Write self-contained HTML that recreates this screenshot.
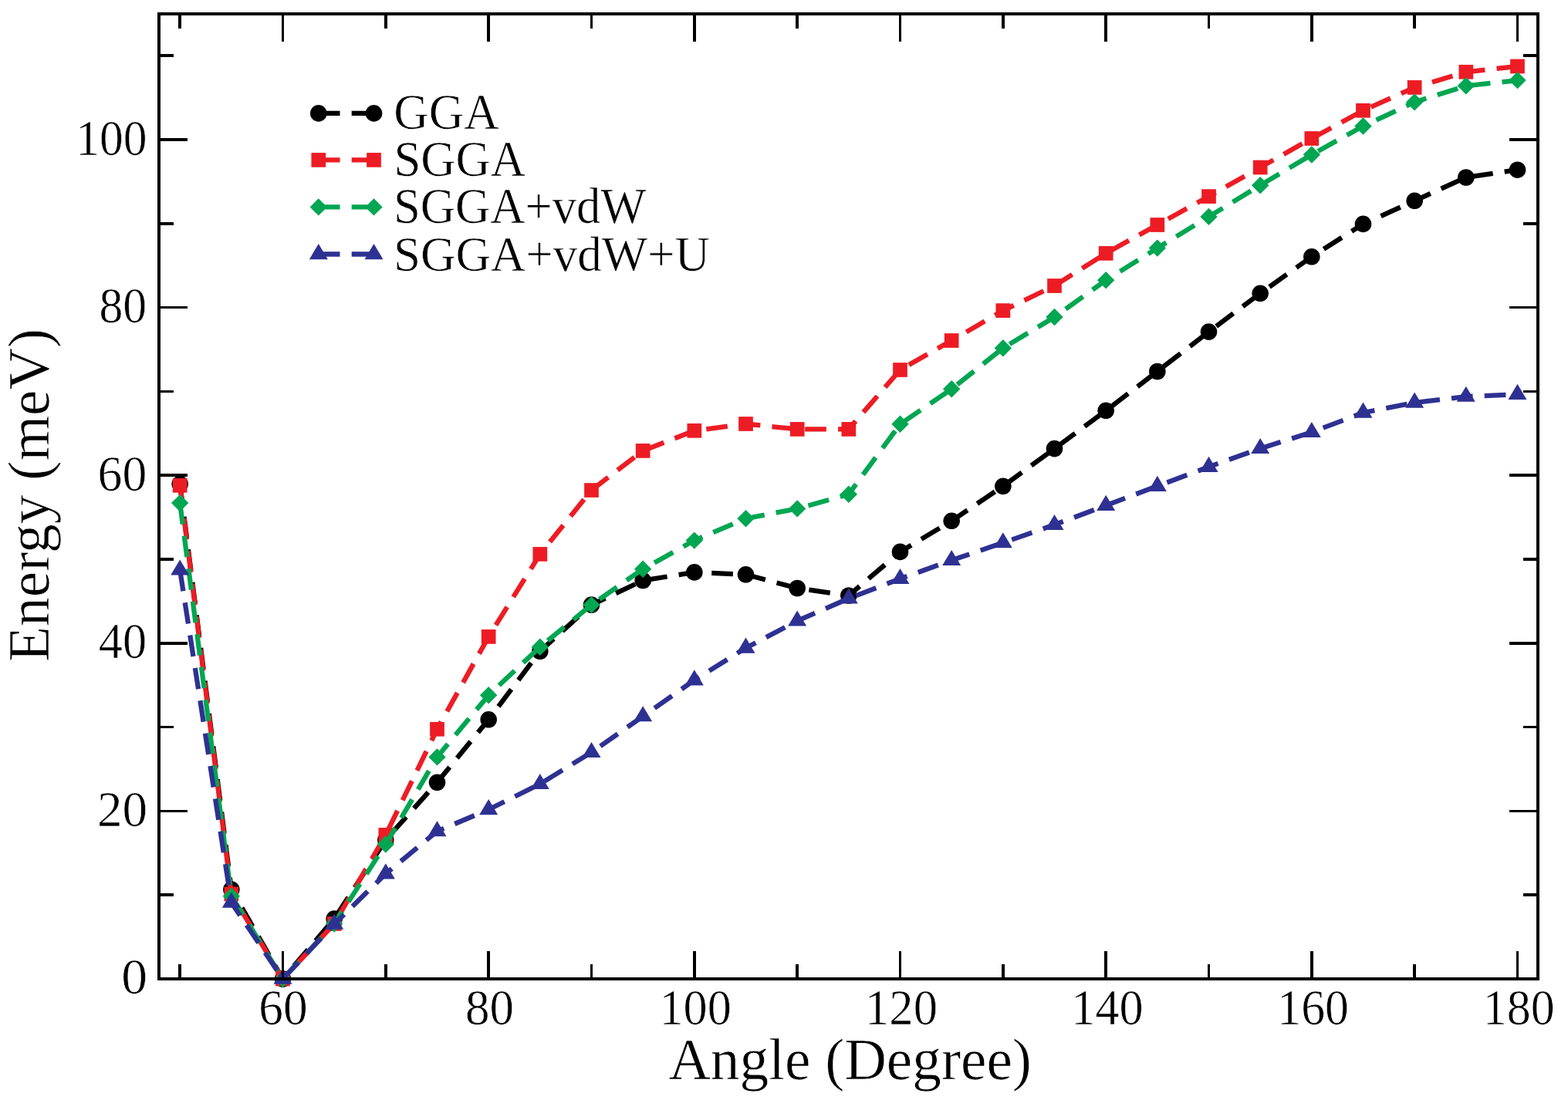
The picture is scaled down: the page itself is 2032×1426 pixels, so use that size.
<!DOCTYPE html>
<html><head><meta charset="utf-8"><title>Energy vs Angle</title>
<style>html,body{margin:0;padding:0;background:#fff;overflow:hidden;}svg{display:block;}</style>
</head><body>
<svg width="2032" height="1426" viewBox="0 0 2032 1426">
<rect width="2032" height="1426" fill="#fff"/>
<polyline points="233.17,627.30 299.83,1153.10 366.50,1269.00 433.17,1191.10 499.83,1088.80 566.50,1014.30 633.17,932.80 699.83,844.30 766.50,784.10 833.17,752.50 899.83,741.90 966.50,744.80 1033.17,762.50 1099.83,772.00 1166.50,715.40 1233.17,675.30 1299.83,630.30 1366.50,581.60 1433.17,532.30 1499.83,481.50 1566.50,430.10 1633.17,380.30 1699.83,332.80 1766.50,290.40 1833.17,260.30 1899.83,230.00 1966.50,220.20" fill="none" stroke="#000000" stroke-width="6.3" stroke-dasharray="27.7 15.18" stroke-linejoin="miter"/>
<g><circle cx="233.17" cy="627.30" r="10.8" fill="#000000"/><circle cx="299.83" cy="1153.10" r="10.8" fill="#000000"/><circle cx="366.50" cy="1269.00" r="10.8" fill="#000000"/><circle cx="433.17" cy="1191.10" r="10.8" fill="#000000"/><circle cx="499.83" cy="1088.80" r="10.8" fill="#000000"/><circle cx="566.50" cy="1014.30" r="10.8" fill="#000000"/><circle cx="633.17" cy="932.80" r="10.8" fill="#000000"/><circle cx="699.83" cy="844.30" r="10.8" fill="#000000"/><circle cx="766.50" cy="784.10" r="10.8" fill="#000000"/><circle cx="833.17" cy="752.50" r="10.8" fill="#000000"/><circle cx="899.83" cy="741.90" r="10.8" fill="#000000"/><circle cx="966.50" cy="744.80" r="10.8" fill="#000000"/><circle cx="1033.17" cy="762.50" r="10.8" fill="#000000"/><circle cx="1099.83" cy="772.00" r="10.8" fill="#000000"/><circle cx="1166.50" cy="715.40" r="10.8" fill="#000000"/><circle cx="1233.17" cy="675.30" r="10.8" fill="#000000"/><circle cx="1299.83" cy="630.30" r="10.8" fill="#000000"/><circle cx="1366.50" cy="581.60" r="10.8" fill="#000000"/><circle cx="1433.17" cy="532.30" r="10.8" fill="#000000"/><circle cx="1499.83" cy="481.50" r="10.8" fill="#000000"/><circle cx="1566.50" cy="430.10" r="10.8" fill="#000000"/><circle cx="1633.17" cy="380.30" r="10.8" fill="#000000"/><circle cx="1699.83" cy="332.80" r="10.8" fill="#000000"/><circle cx="1766.50" cy="290.40" r="10.8" fill="#000000"/><circle cx="1833.17" cy="260.30" r="10.8" fill="#000000"/><circle cx="1899.83" cy="230.00" r="10.8" fill="#000000"/><circle cx="1966.50" cy="220.20" r="10.8" fill="#000000"/></g>
<polyline points="233.17,629.30 299.83,1158.90 366.50,1269.00 433.17,1197.50 499.83,1082.40 566.50,945.30 633.17,825.40 699.83,718.40 766.50,635.50 833.17,584.40 899.83,558.30 966.50,549.50 1033.17,556.40 1099.83,556.40 1166.50,479.50 1233.17,441.50 1299.83,402.60 1366.50,370.50 1433.17,328.40 1499.83,291.50 1566.50,254.60 1633.17,217.00 1699.83,179.50 1766.50,143.30 1833.17,113.40 1899.83,93.30 1966.50,86.00" fill="none" stroke="#ED1C24" stroke-width="6.3" stroke-dasharray="27.7 15.18" stroke-linejoin="miter"/>
<g><rect x="223.82" y="619.95" width="18.70" height="18.70" fill="#ED1C24"/><rect x="290.48" y="1149.55" width="18.70" height="18.70" fill="#ED1C24"/><rect x="357.15" y="1259.65" width="18.70" height="18.70" fill="#ED1C24"/><rect x="423.82" y="1188.15" width="18.70" height="18.70" fill="#ED1C24"/><rect x="490.48" y="1073.05" width="18.70" height="18.70" fill="#ED1C24"/><rect x="557.15" y="935.95" width="18.70" height="18.70" fill="#ED1C24"/><rect x="623.82" y="816.05" width="18.70" height="18.70" fill="#ED1C24"/><rect x="690.48" y="709.05" width="18.70" height="18.70" fill="#ED1C24"/><rect x="757.15" y="626.15" width="18.70" height="18.70" fill="#ED1C24"/><rect x="823.82" y="575.05" width="18.70" height="18.70" fill="#ED1C24"/><rect x="890.48" y="548.95" width="18.70" height="18.70" fill="#ED1C24"/><rect x="957.15" y="540.15" width="18.70" height="18.70" fill="#ED1C24"/><rect x="1023.82" y="547.05" width="18.70" height="18.70" fill="#ED1C24"/><rect x="1090.48" y="547.05" width="18.70" height="18.70" fill="#ED1C24"/><rect x="1157.15" y="470.15" width="18.70" height="18.70" fill="#ED1C24"/><rect x="1223.82" y="432.15" width="18.70" height="18.70" fill="#ED1C24"/><rect x="1290.48" y="393.25" width="18.70" height="18.70" fill="#ED1C24"/><rect x="1357.15" y="361.15" width="18.70" height="18.70" fill="#ED1C24"/><rect x="1423.82" y="319.05" width="18.70" height="18.70" fill="#ED1C24"/><rect x="1490.48" y="282.15" width="18.70" height="18.70" fill="#ED1C24"/><rect x="1557.15" y="245.25" width="18.70" height="18.70" fill="#ED1C24"/><rect x="1623.82" y="207.65" width="18.70" height="18.70" fill="#ED1C24"/><rect x="1690.48" y="170.15" width="18.70" height="18.70" fill="#ED1C24"/><rect x="1757.15" y="133.95" width="18.70" height="18.70" fill="#ED1C24"/><rect x="1823.82" y="104.05" width="18.70" height="18.70" fill="#ED1C24"/><rect x="1890.48" y="83.95" width="18.70" height="18.70" fill="#ED1C24"/><rect x="1957.15" y="76.65" width="18.70" height="18.70" fill="#ED1C24"/></g>
<polyline points="233.17,652.10 299.83,1161.70 366.50,1269.00 433.17,1197.50 499.83,1094.50 566.50,981.40 633.17,901.20 699.83,838.70 766.50,784.10 833.17,737.70 899.83,700.60 966.50,672.20 1033.17,659.40 1099.83,640.80 1166.50,549.80 1233.17,504.30 1299.83,451.30 1366.50,411.00 1433.17,363.30 1499.83,321.60 1566.50,280.90 1633.17,240.20 1699.83,200.50 1766.50,163.50 1833.17,132.40 1899.83,111.30 1966.50,104.10" fill="none" stroke="#00A651" stroke-width="6.3" stroke-dasharray="27.7 15.18" stroke-linejoin="miter"/>
<g><polygon points="233.17,640.90 244.37,652.10 233.17,663.30 221.97,652.10" fill="#00A651"/><polygon points="299.83,1150.50 311.03,1161.70 299.83,1172.90 288.63,1161.70" fill="#00A651"/><polygon points="366.50,1257.80 377.70,1269.00 366.50,1280.20 355.30,1269.00" fill="#00A651"/><polygon points="433.17,1186.30 444.37,1197.50 433.17,1208.70 421.97,1197.50" fill="#00A651"/><polygon points="499.83,1083.30 511.03,1094.50 499.83,1105.70 488.63,1094.50" fill="#00A651"/><polygon points="566.50,970.20 577.70,981.40 566.50,992.60 555.30,981.40" fill="#00A651"/><polygon points="633.17,890.00 644.37,901.20 633.17,912.40 621.97,901.20" fill="#00A651"/><polygon points="699.83,827.50 711.03,838.70 699.83,849.90 688.63,838.70" fill="#00A651"/><polygon points="766.50,772.90 777.70,784.10 766.50,795.30 755.30,784.10" fill="#00A651"/><polygon points="833.17,726.50 844.37,737.70 833.17,748.90 821.97,737.70" fill="#00A651"/><polygon points="899.83,689.40 911.03,700.60 899.83,711.80 888.63,700.60" fill="#00A651"/><polygon points="966.50,661.00 977.70,672.20 966.50,683.40 955.30,672.20" fill="#00A651"/><polygon points="1033.17,648.20 1044.37,659.40 1033.17,670.60 1021.97,659.40" fill="#00A651"/><polygon points="1099.83,629.60 1111.03,640.80 1099.83,652.00 1088.63,640.80" fill="#00A651"/><polygon points="1166.50,538.60 1177.70,549.80 1166.50,561.00 1155.30,549.80" fill="#00A651"/><polygon points="1233.17,493.10 1244.37,504.30 1233.17,515.50 1221.97,504.30" fill="#00A651"/><polygon points="1299.83,440.10 1311.03,451.30 1299.83,462.50 1288.63,451.30" fill="#00A651"/><polygon points="1366.50,399.80 1377.70,411.00 1366.50,422.20 1355.30,411.00" fill="#00A651"/><polygon points="1433.17,352.10 1444.37,363.30 1433.17,374.50 1421.97,363.30" fill="#00A651"/><polygon points="1499.83,310.40 1511.03,321.60 1499.83,332.80 1488.63,321.60" fill="#00A651"/><polygon points="1566.50,269.70 1577.70,280.90 1566.50,292.10 1555.30,280.90" fill="#00A651"/><polygon points="1633.17,229.00 1644.37,240.20 1633.17,251.40 1621.97,240.20" fill="#00A651"/><polygon points="1699.83,189.30 1711.03,200.50 1699.83,211.70 1688.63,200.50" fill="#00A651"/><polygon points="1766.50,152.30 1777.70,163.50 1766.50,174.70 1755.30,163.50" fill="#00A651"/><polygon points="1833.17,121.20 1844.37,132.40 1833.17,143.60 1821.97,132.40" fill="#00A651"/><polygon points="1899.83,100.10 1911.03,111.30 1899.83,122.50 1888.63,111.30" fill="#00A651"/><polygon points="1966.50,92.90 1977.70,104.10 1966.50,115.30 1955.30,104.10" fill="#00A651"/></g>
<polyline points="233.17,738.80 299.83,1170.00 366.50,1269.00 433.17,1198.00 499.83,1132.70 566.50,1077.60 633.17,1049.50 699.83,1016.30 766.50,975.30 833.17,928.60 899.83,881.70 966.50,840.00 1033.17,804.90 1099.83,775.80 1166.50,750.30 1233.17,726.30 1299.83,703.60 1366.50,680.30 1433.17,655.20 1499.83,630.20 1566.50,605.20 1633.17,581.40 1699.83,560.30 1766.50,535.00 1833.17,522.00 1899.83,514.10 1966.50,511.20" fill="none" stroke="#2E3192" stroke-width="6.3" stroke-dasharray="27.7 15.18" stroke-linejoin="miter"/>
<g><polygon points="233.17,725.40 245.17,745.50 221.17,745.50" fill="#2E3192"/><polygon points="299.83,1156.60 311.83,1176.70 287.83,1176.70" fill="#2E3192"/><polygon points="366.50,1255.60 378.50,1275.70 354.50,1275.70" fill="#2E3192"/><polygon points="433.17,1184.60 445.17,1204.70 421.17,1204.70" fill="#2E3192"/><polygon points="499.83,1119.30 511.83,1139.40 487.83,1139.40" fill="#2E3192"/><polygon points="566.50,1064.20 578.50,1084.30 554.50,1084.30" fill="#2E3192"/><polygon points="633.17,1036.10 645.17,1056.20 621.17,1056.20" fill="#2E3192"/><polygon points="699.83,1002.90 711.83,1023.00 687.83,1023.00" fill="#2E3192"/><polygon points="766.50,961.90 778.50,982.00 754.50,982.00" fill="#2E3192"/><polygon points="833.17,915.20 845.17,935.30 821.17,935.30" fill="#2E3192"/><polygon points="899.83,868.30 911.83,888.40 887.83,888.40" fill="#2E3192"/><polygon points="966.50,826.60 978.50,846.70 954.50,846.70" fill="#2E3192"/><polygon points="1033.17,791.50 1045.17,811.60 1021.17,811.60" fill="#2E3192"/><polygon points="1099.83,762.40 1111.83,782.50 1087.83,782.50" fill="#2E3192"/><polygon points="1166.50,736.90 1178.50,757.00 1154.50,757.00" fill="#2E3192"/><polygon points="1233.17,712.90 1245.17,733.00 1221.17,733.00" fill="#2E3192"/><polygon points="1299.83,690.20 1311.83,710.30 1287.83,710.30" fill="#2E3192"/><polygon points="1366.50,666.90 1378.50,687.00 1354.50,687.00" fill="#2E3192"/><polygon points="1433.17,641.80 1445.17,661.90 1421.17,661.90" fill="#2E3192"/><polygon points="1499.83,616.80 1511.83,636.90 1487.83,636.90" fill="#2E3192"/><polygon points="1566.50,591.80 1578.50,611.90 1554.50,611.90" fill="#2E3192"/><polygon points="1633.17,568.00 1645.17,588.10 1621.17,588.10" fill="#2E3192"/><polygon points="1699.83,546.90 1711.83,567.00 1687.83,567.00" fill="#2E3192"/><polygon points="1766.50,521.60 1778.50,541.70 1754.50,541.70" fill="#2E3192"/><polygon points="1833.17,508.60 1845.17,528.70 1821.17,528.70" fill="#2E3192"/><polygon points="1899.83,500.70 1911.83,520.80 1887.83,520.80" fill="#2E3192"/><polygon points="1966.50,497.80 1978.50,517.90 1954.50,517.90" fill="#2E3192"/></g>
<rect x="206" y="18" width="1787" height="1251" fill="none" stroke="#000" stroke-width="4" shape-rendering="crispEdges"/>
<path d="M233.17 1269V1250M233.17 18V37M366.50 1269V1233M366.50 18V54M499.83 1269V1250M499.83 18V37M633.17 1269V1233M633.17 18V54M766.50 1269V1250M766.50 18V37M899.83 1269V1233M899.83 18V54M1033.17 1269V1250M1033.17 18V37M1166.50 1269V1233M1166.50 18V54M1299.83 1269V1250M1299.83 18V37M1433.17 1269V1233M1433.17 18V54M1566.50 1269V1250M1566.50 18V37M1699.83 1269V1233M1699.83 18V54M1833.17 1269V1250M1833.17 18V37M1966.50 1269V1233M1966.50 18V54M206 1160.20H225M1993 1160.20H1974M206 1051.40H243M1993 1051.40H1956M206 942.60H225M1993 942.60H1974M206 833.80H243M1993 833.80H1956M206 725.00H225M1993 725.00H1974M206 616.20H243M1993 616.20H1956M206 507.40H225M1993 507.40H1974M206 398.60H243M1993 398.60H1956M206 289.80H225M1993 289.80H1974M206 181.00H243M1993 181.00H1956M206 72.20H225M1993 72.20H1974" stroke="#000" stroke-width="3.5" fill="none" shape-rendering="crispEdges"/>
<text transform="matrix(0.63370 0 0 0.64500 335.37 1327.77)" font-family="Liberation Serif, Times New Roman, serif" font-size="100" fill="#000" stroke="#fff" stroke-width="0.938">60</text>
<text transform="matrix(0.63043 0 0 0.64500 602.98 1327.82)" font-family="Liberation Serif, Times New Roman, serif" font-size="100" fill="#000" stroke="#fff" stroke-width="0.941">80</text>
<text transform="matrix(0.62336 0 0 0.64500 854.39 1328.14)" font-family="Liberation Serif, Times New Roman, serif" font-size="100" fill="#000" stroke="#fff" stroke-width="0.946">100</text>
<text transform="matrix(0.62628 0 0 0.64500 1121.06 1328.14)" font-family="Liberation Serif, Times New Roman, serif" font-size="100" fill="#000" stroke="#fff" stroke-width="0.944">120</text>
<text transform="matrix(0.62263 0 0 0.64500 1388.30 1328.14)" font-family="Liberation Serif, Times New Roman, serif" font-size="100" fill="#000" stroke="#fff" stroke-width="0.947">140</text>
<text transform="matrix(0.61825 0 0 0.64500 1655.24 1328.14)" font-family="Liberation Serif, Times New Roman, serif" font-size="100" fill="#000" stroke="#fff" stroke-width="0.950">160</text>
<text transform="matrix(0.61971 0 0 0.64500 1921.82 1328.14)" font-family="Liberation Serif, Times New Roman, serif" font-size="100" fill="#000" stroke="#fff" stroke-width="0.949">180</text>
<text transform="matrix(0.67619 0 0 0.64500 157.30 1287.72)" font-family="Liberation Serif, Times New Roman, serif" font-size="100" fill="#000" stroke="#fff" stroke-width="0.909">0</text>
<text transform="matrix(0.65109 0 0 0.64500 125.90 1070.72)" font-family="Liberation Serif, Times New Roman, serif" font-size="100" fill="#000" stroke="#fff" stroke-width="0.926">20</text>
<text transform="matrix(0.62340 0 0 0.64500 127.85 853.12)" font-family="Liberation Serif, Times New Roman, serif" font-size="100" fill="#000" stroke="#fff" stroke-width="0.946">40</text>
<text transform="matrix(0.63696 0 0 0.64500 126.55 636.12)" font-family="Liberation Serif, Times New Roman, serif" font-size="100" fill="#000" stroke="#fff" stroke-width="0.936">60</text>
<text transform="matrix(0.61739 0 0 0.64500 128.43 417.52)" font-family="Liberation Serif, Times New Roman, serif" font-size="100" fill="#000" stroke="#fff" stroke-width="0.951">80</text>
<text transform="matrix(0.61533 0 0 0.64500 98.26 201.14)" font-family="Liberation Serif, Times New Roman, serif" font-size="100" fill="#000" stroke="#fff" stroke-width="0.952">100</text>
<line x1="412.8" y1="146.9" x2="484.5" y2="146.9" stroke="#000000" stroke-width="6.3" stroke-dasharray="27.7 15.18"/>
<circle cx="412.80" cy="146.90" r="10.8" fill="#000000"/><circle cx="484.50" cy="146.90" r="10.8" fill="#000000"/>
<line x1="412.8" y1="207.4" x2="484.5" y2="207.4" stroke="#ED1C24" stroke-width="6.3" stroke-dasharray="27.7 15.18"/>
<rect x="403.45" y="198.05" width="18.70" height="18.70" fill="#ED1C24"/><rect x="475.15" y="198.05" width="18.70" height="18.70" fill="#ED1C24"/>
<line x1="412.8" y1="268.4" x2="484.5" y2="268.4" stroke="#00A651" stroke-width="6.3" stroke-dasharray="27.7 15.18"/>
<polygon points="412.80,257.20 424.00,268.40 412.80,279.60 401.60,268.40" fill="#00A651"/><polygon points="484.50,257.20 495.70,268.40 484.50,279.60 473.30,268.40" fill="#00A651"/>
<line x1="412.8" y1="329.5" x2="484.5" y2="329.5" stroke="#2E3192" stroke-width="6.3" stroke-dasharray="27.7 15.18"/>
<polygon points="412.80,316.10 424.80,336.20 400.80,336.20" fill="#2E3192"/><polygon points="484.50,316.10 496.50,336.20 472.50,336.20" fill="#2E3192"/>
<text transform="matrix(0.62925 0 0 0.65147 510.28 166.80)" font-family="Liberation Serif, Times New Roman, serif" font-size="100" fill="#000" stroke="#fff" stroke-width="0.937">GGA</text>
<text transform="matrix(0.62614 0 0 0.65147 510.42 227.80)" font-family="Liberation Serif, Times New Roman, serif" font-size="100" fill="#000" stroke="#fff" stroke-width="0.939">SGGA</text>
<text transform="matrix(0.62616 0 0 0.64648 510.02 289.11)" font-family="Liberation Serif, Times New Roman, serif" font-size="100" fill="#000" stroke="#fff" stroke-width="0.943">SGGA+vdW</text>
<text transform="matrix(0.62924 0 0 0.64085 510.00 351.12)" font-family="Liberation Serif, Times New Roman, serif" font-size="100" fill="#000" stroke="#fff" stroke-width="0.945">SGGA+vdW+U</text>
<text transform="matrix(0.75331 0 0 0.75667 866.45 1398.81)" font-family="Liberation Serif, Times New Roman, serif" font-size="100" fill="#000" stroke="#fff" stroke-width="0.795">Angle (Degree)</text>
<text transform="matrix(0 -0.75451 0.75556 0 63.03 858.06)" font-family="Liberation Serif, Times New Roman, serif" font-size="100" fill="#000" stroke="#fff" stroke-width="0.795">Energy (meV)</text>
</svg>
</body></html>
